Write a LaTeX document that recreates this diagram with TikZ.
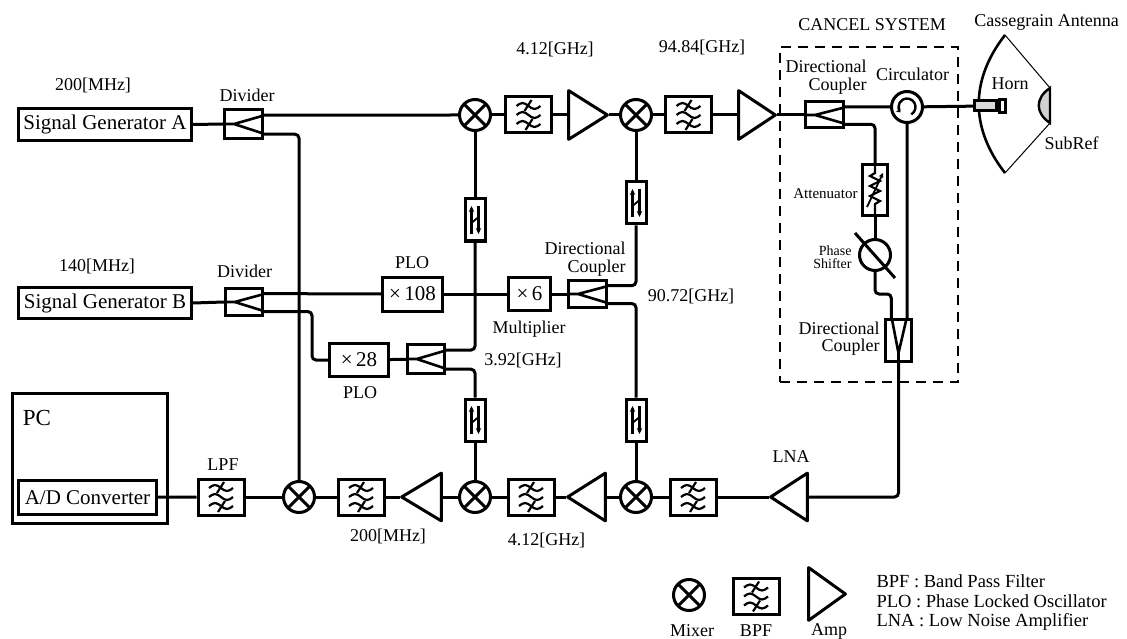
\documentclass[tikz,border=0pt]{standalone}
\usepackage{fontspec}
\setmainfont{Liberation Serif}
\usetikzlibrary{calc,arrows.meta}

\newcommand{\bigtxt}{\fontsize{21}{21}\selectfont}
\newcommand{\lbltxt}{\fontsize{18}{18}\selectfont}
\newcommand{\tinytxt}{\fontsize{14}{13}\selectfont}
\newcommand{\keytxt}{\fontsize{18.5}{19.5}\selectfont}

\tikzstyle{blk} = [rectangle, draw, font=\bigtxt, inner sep=0pt]
\tikzstyle{lbl} = [font=\lbltxt, inner sep=0pt, align=center]
\tikzstyle{lblr} = [font=\lbltxt, inner sep=0pt, align=right, anchor=east]
\tikzstyle{tiny} = [font=\tinytxt, inner sep=0pt, align=right, anchor=east]
\tikzstyle{keytext} = [font=\keytxt, inner sep=0pt, align=left, anchor=west]
\tikzstyle{mixer} = [circle, draw, minimum size=31pt, inner sep=0pt,
                     path picture={\draw (path picture bounding box.north west) -- (path picture bounding box.south east)
                                         (path picture bounding box.north east) -- (path picture bounding box.south west);}]
\tikzstyle{bpf} = [rectangle, draw, minimum width=46pt, minimum height=36pt,
                   path picture={
                     \foreach \dy in {-9,0,9}
                       \draw[line width=2.2pt, shift={(path picture bounding box.center)}]
                         (-12,\dy) sin (-6,\dy-3) cos (0,\dy) sin (6,\dy+3) cos (12,\dy);
                     \draw[line width=2.2pt, shift={(path picture bounding box.center)}]
                       (-4,-4) -- (3,-15) (-3,15) -- (4,4);}]
\tikzstyle{ampr} = [rectangle, fill=white, inner sep=0pt, outer sep=0pt,
                    minimum width=40pt, minimum height=52pt,
                    path picture={\draw[line join=round]
                      ([shift={(1.6pt,-1.6pt)}]path picture bounding box.north west)
                      -- ([xshift=-1.6pt]path picture bounding box.east)
                      -- ([shift={(1.6pt,1.6pt)}]path picture bounding box.south west) -- cycle;}]
\tikzstyle{ampl} = [rectangle, fill=white, inner sep=0pt, outer sep=0pt,
                    minimum width=40pt, minimum height=52pt,
                    path picture={\draw[line join=round]
                      ([shift={(-1.6pt,-1.6pt)}]path picture bounding box.north east)
                      -- ([xshift=1.6pt]path picture bounding box.west)
                      -- ([shift={(-1.6pt,1.6pt)}]path picture bounding box.south east) -- cycle;}]
\tikzstyle{cpl} = [rectangle, draw, minimum width=38pt, minimum height=30pt,
                   path picture={\draw[line width=2.6pt]
                     (path picture bounding box.west)
                     -- ($(path picture bounding box.west)!0.25!(path picture bounding box.east)$) coordinate (apx)
                     -- ($(path picture bounding box.north east)!0.22!(path picture bounding box.south east)$)
                     (apx) -- ($(path picture bounding box.north east)!0.82!(path picture bounding box.south east)$);}]
\tikzstyle{cplv} = [rectangle, draw, minimum width=26pt, minimum height=42pt,
                    path picture={\draw[line width=2.6pt]
                      (path picture bounding box.south)
                      -- ($(path picture bounding box.north)!0.8!(path picture bounding box.south)$) coordinate (apx)
                      -- ($(path picture bounding box.north west)!0.25!(path picture bounding box.north east)$)
                      (apx) -- ($(path picture bounding box.north west)!0.8!(path picture bounding box.north east)$);}]
\tikzstyle{isol} = [rectangle, draw, minimum width=20pt, minimum height=42pt,
                    path picture={
                      \draw[line width=2.2pt, -{Stealth[length=6pt,width=5.5pt]}, shift={(path picture bounding box.center)}]
                        (-3.5,14) -- (-3.5,-14);
                      \draw[line width=2.2pt, -{Stealth[length=6pt,width=5.5pt]}, shift={(path picture bounding box.center)}]
                        (3.5,-14) -- (3.5,14);
                      \draw[line width=1.8pt, shift={(path picture bounding box.center)}] (-3.5,3) -- (3.5,-3);}]
\tikzstyle{circul} = [circle, draw, minimum size=31pt, inner sep=0pt,
                      path picture={\draw[line width=2.4pt, -{Stealth[length=4pt,width=6pt]},
                                          shift={(path picture bounding box.center)}]
                        (-60:8.5pt) arc[start angle=-60, end angle=220, radius=8.5pt];}]
\tikzstyle{atten} = [rectangle, draw, minimum width=25pt, minimum height=51pt,
                     path picture={
                       \draw[line width=2.2pt, shift={(path picture bounding box.center)}]
                         (0,-27) -- (0,-17) -- (-5,-14) -- (5,-9) -- (-5,-4) -- (5,1)
                         -- (-5,6) -- (5,11) -- (0,14) -- (0,27);
                       \draw[line width=1.8pt, -{Stealth[length=5pt,width=5pt]}, shift={(path picture bounding box.center)}]
                         (-8,17) -- (8,-17);}]
\tikzstyle{phase} = [circle, draw, minimum size=31pt, inner sep=0pt]
\tikzstyle{hornbox} = [rectangle, draw, fill=gray!30, minimum width=22pt, minimum height=10pt, inner sep=0pt]
\tikzstyle{hornlip} = [rectangle, draw, fill=white, minimum width=6pt, minimum height=13pt, inner sep=0pt]
\tikzstyle{cancelbox} = [rectangle, draw, line width=1.8pt, dash pattern=on 10pt off 7pt,
                         minimum width=178pt, minimum height=335pt]
\tikzstyle{wire} = [rounded corners=4pt]
\tikzstyle{thin} = [line width=1pt]

\begin{document}
\begin{tikzpicture}[x=1pt, y=-1pt, line width=3pt]
  \useasboundingbox (0,0) rectangle (1127,639);

  \node (cancel) [cancelbox] at (869,214.5) {};
  \node (lblCancel) [lbl] at (872,25) {CANCEL SYSTEM};

  %% Antenna
  \coordinate (dishT) at (1005,35);
  \coordinate (dishB) at (1005,173);
  \coordinate (subT) at (1050,88);
  \coordinate (subB) at (1050,123);
  \draw [line width=2.6pt] (dishT) .. controls (970,80) and (970,128) .. (dishB);
  \draw [thin] (dishT) -- (subT) (dishB) -- (subB);
  \draw [line width=2.4pt, fill=gray!35] (subT) .. controls (1035,98) and (1035,113) .. (subB) -- cycle;
  \node (lblCass) [lbl] at (1046.5,22) {Cassegrain Antenna};
  \node (lblSub) [lbl] at (1071.5,143) {SubRef};
  \node (horn) [hornbox] at (985.5,106) {};
  \node (hornm) [hornlip] at (1002.9,106) {};
  \node (lblHorn) [lbl] at (1010,84) {Horn};

  %% Sources and dividers
  \node (sgA) [blk, minimum width=173pt, minimum height=32pt] at (105,124.5) {Signal Generator A};
  \node (lbl200A) [lbl] at (93,85) {200[MHz]};
  \node (divA) [cpl, minimum height=29pt] at (243.5,124) {};
  \node (lblDivA) [lbl] at (247,95) {Divider};
  \coordinate (divA-o1) at ($(divA.north east)!0.22!(divA.south east)$);
  \coordinate (divA-o2) at ($(divA.north east)!0.82!(divA.south east)$);

  \node (sgB) [blk, minimum width=173pt, minimum height=31pt] at (105,303) {Signal Generator B};
  \node (lbl140) [lbl] at (97,266) {140[MHz]};
  \node (divB) [cpl, minimum width=37pt, minimum height=27pt] at (244,302) {};
  \node (lblDivB) [lbl] at (244.5,271) {Divider};
  \coordinate (divB-o1) at ($(divB.north east)!0.22!(divB.south east)$);
  \coordinate (divB-o2) at ($(divB.north east)!0.82!(divB.south east)$);

  %% Up-conversion chain
  \node (mixA) [mixer] at (475,115) {};
  \node (bpfA) [bpf] at (528.5,115) {};
  \node (ampA) [ampr, minimum width=42pt] at (588,115) {};
  \node (lbl412a) [lbl] at (555,49) {4.12[GHz]};
  \node (mixB) [mixer] at (636,115) {};
  \node (bpfB) [bpf] at (688.5,115) {};
  \node (ampB) [ampr] at (757,115) {};
  \node (lbl9484) [lbl] at (702,47) {94.84[GHz]};

  %% Cancel system
  \node (dcA) [cpl, minimum height=26pt] at (824.5,115) {};
  \coordinate (dcA-o1) at ($(dcA.north east)!0.22!(dcA.south east)$);
  \coordinate (dcA-o2) at ($(dcA.north east)!0.82!(dcA.south east)$);
  \node (lblDcA) [lblr] at (868,77) {Directional\\Coupler};
  \node (circ) [circul] at (907,107) {};
  \node (lblCirc) [lbl] at (912.5,74) {Circulator};
  \node (att) [atten] at (875,190) {};
  \node (lblAtt) [tiny, font=\fontsize{15}{15}\selectfont] at (859,194) {Attenuator};
  \node (ps) [phase] at (875,255) {};
  \node (lblPs) [tiny] at (853,257) {Phase\\Shifter};
  \node (dcB) [cplv] at (898.5,340.5) {};
  \coordinate (dcB-i1) at ($(dcB.north west)!0.25!(dcB.north east)$);
  \coordinate (dcB-i2) at ($(dcB.north west)!0.8!(dcB.north east)$);
  \node (lblDcB) [lblr, font=\fontsize{18}{17}\selectfont] at (881,339) {Directional\\Coupler};

  %% Local oscillators
  \node (plo108) [blk, minimum width=60pt, minimum height=34pt] at (412.5,294) {\texttimes\,108};
  \node (lblPLO1) [lbl] at (412,263) {PLO};
  \node (x6) [blk, minimum width=42pt, minimum height=33pt] at (529.5,294) {\texttimes\,6};
  \node (lblMult) [lbl] at (529,329) {Multiplier};
  \node (dcC) [cpl, minimum height=27pt] at (587.5,294) {};
  \coordinate (dcC-o1) at ($(dcC.north east)!0.22!(dcC.south east)$);
  \coordinate (dcC-o2) at ($(dcC.north east)!0.82!(dcC.south east)$);
  \node (lblDcC) [lblr] at (627,259) {Directional\\Coupler};
  \node (lbl9072) [lbl] at (691,296) {90.72[GHz]};
  \node (x28) [blk, minimum width=59pt, minimum height=33pt] at (359,360) {\texttimes\,28};
  \node (lblPLO2) [lbl] at (360,393) {PLO};
  \node (dcD) [cpl, minimum width=37pt, minimum height=29pt] at (426,359) {};
  \coordinate (dcD-o1) at ($(dcD.north east)!0.22!(dcD.south east)$);
  \coordinate (dcD-o2) at ($(dcD.north east)!0.82!(dcD.south east)$);
  \node (lbl392) [lbl] at (523,360) {3.92[GHz]};
  \node (iso1) [isol] at (475,220) {};
  \node (iso2) [isol] at (636,203) {};
  \node (iso3) [isol] at (475,420) {};
  \node (iso4) [isol] at (636,420) {};

  %% Down-conversion chain
  \node (pc) [blk, minimum width=155pt, minimum height=130pt] at (90,458.5) {};
  \node (lblPC) [lbl, font=\fontsize{23}{23}\selectfont] at (37,418) {PC};
  \node (ad) [blk, minimum width=138pt, minimum height=34pt] at (87.5,497.5) {A/D Converter};
  \node (lpf) [bpf] at (221,497) {};
  \node (lblLPF) [lbl] at (223,465) {LPF};
  \node (mix0) [mixer] at (299,497) {};
  \node (bpf0) [bpf] at (361,497) {};
  \node (lbl200b) [lbl] at (388,536) {200[MHz]};
  \node (ampC) [ampl, minimum width=43pt, minimum height=51pt] at (421.5,497) {};
  \node (mixC) [mixer] at (475,497) {};
  \node (bpfD) [bpf] at (531,497) {};
  \node (lbl412b) [lbl] at (546.5,540) {4.12[GHz]};
  \node (ampD) [ampl, minimum width=41pt, minimum height=51pt] at (586.5,497) {};
  \node (mixD) [mixer] at (636,497) {};
  \node (bpfE) [bpf] at (693,497) {};
  \node (lna) [ampl, minimum height=51pt] at (789,497) {};
  \node (lblLNA) [lbl] at (791,457) {LNA};

  %% Signal path up
  \draw (sgA.east) -- (divA.west);
  \draw (divA-o1) -- (mixA.west);
  \draw (mixA) -- (bpfA);
  \draw (bpfA) -- (ampA);
  \draw (ampA) -- (mixB);
  \draw (mixB) -- (bpfB);
  \draw (bpfB) -- (ampB);
  \draw (ampB) -- (dcA);
  \draw (dcA-o1) -- (circ);
  \draw (circ) -- (horn);
  \draw [wire] (dcA-o2) -| (att.north);
  \draw (att) -- (ps);
  \draw ($(ps)+(-20,-22)$) -- ($(ps)+(20,23)$);
  \draw [wire] (ps.south) -- ++(0,22) -| (dcB-i1);
  \draw (circ.south) -- (dcB-i2);
  \draw [wire] (dcB.south) |- (lna.east);

  %% Signal path down
  \draw (lna) -- (bpfE);
  \draw (bpfE) -- (mixD);
  \draw (mixD) -- (ampD);
  \draw (ampD) -- (bpfD);
  \draw (bpfD) -- (mixC);
  \draw (mixC) -- (ampC);
  \draw (ampC) -- (bpf0);
  \draw (bpf0) -- (mix0);
  \draw (mix0) -- (lpf);
  \draw (lpf) -- (ad);

  %% Local oscillator feeds
  \draw [wire] (divA-o2) -| (mix0.north);
  \draw (sgB.east) -- (divB.west);
  \draw (divB-o1) -- (plo108.west);
  \draw (plo108) -- (x6);
  \draw (x6) -- (dcC);
  \draw [wire] (divB-o2) -- ++(48,0) |- (x28.west);
  \draw (x28) -- (dcD);
  \draw [wire] (dcD-o1) -| (iso1.south);
  \draw (iso1) -- (mixA);
  \draw [wire] (dcD-o2) -| (iso3.north);
  \draw (iso3) -- (mixC);
  \draw [wire] (dcC-o1) -| (iso2.south);
  \draw (iso2) -- (mixB);
  \draw [wire] (dcC-o2) -| (iso4.north);
  \draw (iso4) -- (mixD);

  %% Legend
  \node (lgMix) [mixer] at (689,595) {};
  \node (lgMixT) [lbl] at (692,631) {Mixer};
  \node (lgBpf) [bpf] at (756,596.5) {};
  \node (lgBpfT) [lbl] at (756,631) {BPF};
  \node (lgAmp) [ampr, minimum height=56pt] at (827,594) {};
  \node (lgAmpT) [lbl] at (829,631) {Amp};
  \node (lgText) [keytext] at (875,603) {BPF : Band Pass Filter\\PLO : Phase Locked Oscillator\\LNA : Low Noise Amplifier};
\end{tikzpicture}
\end{document}
